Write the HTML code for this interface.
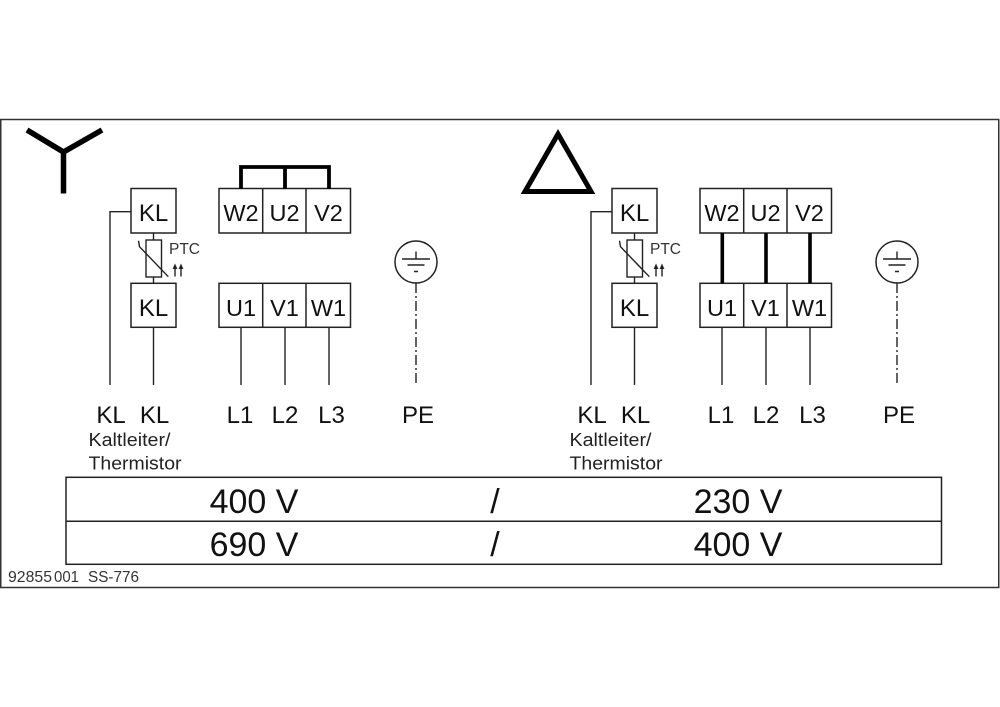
<!DOCTYPE html>
<html>
<head>
<meta charset="utf-8">
<style>
html,body{margin:0;padding:0;background:#fff;}
svg{display:block;}
text{font-family:"Liberation Sans",Arial,sans-serif;fill:#111;}
</style>
</head>
<body>
<svg width="1000" height="707" viewBox="0 0 1000 707" xmlns="http://www.w3.org/2000/svg">
<rect x="0" y="0" width="1000" height="707" fill="#fff"/>
<!-- outer frame -->
<rect x="0.75" y="119.5" width="998" height="468" fill="none" stroke="#333" stroke-width="1.5"/>

<!-- Y symbol -->
<path d="M27,130 L63.5,152 L102,130 M63.5,152 L63.5,193.5" fill="none" stroke="#000" stroke-width="5.5" stroke-linejoin="miter"/>
<!-- Delta symbol -->
<polygon points="558,134 591,191.5 525,191.5" fill="none" stroke="#000" stroke-width="5" stroke-linejoin="miter"/>

<!-- common block, left -->
<g id="blk">
  <!-- KL boxes -->
  <rect x="131" y="188.5" width="45" height="44.5" fill="none" stroke="#222" stroke-width="1.5"/>
  <rect x="131" y="283.3" width="45" height="44" fill="none" stroke="#222" stroke-width="1.5"/>
  <text x="153.5" y="221" font-size="24" text-anchor="middle">KL</text>
  <text x="153.5" y="316" font-size="24" text-anchor="middle">KL</text>
  <!-- KL wires -->
  <path d="M131,211.7 H110 V385 M153.5,327.3 V385 M153.5,233 V240 M153.5,277 V283.3" fill="none" stroke="#222" stroke-width="1.4"/>
  <!-- PTC -->
  <rect x="146" y="240" width="15.5" height="37" fill="none" stroke="#222" stroke-width="1.4"/>
  <path d="M138.5,240.7 L139.5,246.7 L168.3,276.7" fill="none" stroke="#222" stroke-width="1.4"/>
  <text x="169" y="254" font-size="15.5" style="fill:#333">PTC</text>
  <path d="M175,276.5 V267 M181,276.5 V267" stroke="#222" stroke-width="1.4"/>
  <polygon points="175,263.5 172.6,269 177.4,269" fill="#222"/>
  <polygon points="181,263.5 178.6,269 183.4,269" fill="#222"/>
  <!-- terminal boxes -->
  <rect x="219" y="188.5" width="131.5" height="44.5" fill="none" stroke="#222" stroke-width="1.5"/>
  <path d="M262.7,188.5 V233 M306,188.5 V233" stroke="#222" stroke-width="1.5"/>
  <rect x="219" y="283.3" width="131.5" height="44" fill="none" stroke="#222" stroke-width="1.5"/>
  <path d="M262.7,283.3 V327.3 M306,283.3 V327.3" stroke="#222" stroke-width="1.5"/>
  <text x="241" y="221" font-size="23.5" text-anchor="middle">W2</text>
  <text x="284.5" y="221" font-size="23.5" text-anchor="middle">U2</text>
  <text x="328.5" y="221" font-size="23.5" text-anchor="middle">V2</text>
  <text x="241" y="316" font-size="23.5" text-anchor="middle">U1</text>
  <text x="284.5" y="316" font-size="23.5" text-anchor="middle">V1</text>
  <text x="328.5" y="316" font-size="23.5" text-anchor="middle">W1</text>
  <!-- line wires -->
  <path d="M241,327.3 V385 M285,327.3 V385 M329,327.3 V385" stroke="#222" stroke-width="1.4"/>
  <!-- earth -->
  <circle cx="416" cy="262" r="21" fill="none" stroke="#222" stroke-width="1.5"/>
  <path d="M416,251.5 V259 M402,259 H430 M407.5,265 H424.5 M414,271.5 H418" stroke="#222" stroke-width="1.4"/>
  <path d="M416,283 V385" stroke="#222" stroke-width="1.4" stroke-dasharray="10 3 2 3"/>
  <!-- labels -->
  <text x="111" y="423" font-size="24" text-anchor="middle">KL</text>
  <text x="154.5" y="423" font-size="24" text-anchor="middle">KL</text>
  <text x="240" y="423" font-size="24" text-anchor="middle">L1</text>
  <text x="285" y="423" font-size="24" text-anchor="middle">L2</text>
  <text x="331.5" y="423" font-size="24" text-anchor="middle">L3</text>
  <text x="418" y="423" font-size="24" text-anchor="middle">PE</text>
  <text x="88.5" y="446" font-size="18" textLength="82" lengthAdjust="spacingAndGlyphs" style="fill:#222">Kaltleiter/</text>
  <text x="88.5" y="469.5" font-size="18" textLength="93" lengthAdjust="spacingAndGlyphs" style="fill:#222">Thermistor</text>
</g>

<!-- left bridge (star) -->
<path d="M241,189 V167 H329 V189 M285,167 V189" fill="none" stroke="#000" stroke-width="3.8" stroke-linejoin="miter"/>

<!-- right block -->
<use href="#blk" transform="translate(481,0)"/>
<!-- delta bars -->
<path d="M722.3,233 V283.3 M766,233 V283.3 M810,233 V283.3" stroke="#000" stroke-width="3.6"/>

<!-- voltage table -->
<rect x="66" y="477.3" width="875.5" height="87" fill="none" stroke="#222" stroke-width="1.5"/>
<path d="M66,521.3 H941.5" stroke="#222" stroke-width="1.5"/>
<text x="254" y="513" font-size="34" text-anchor="middle">400 V</text>
<text x="495" y="513" font-size="34" text-anchor="middle">/</text>
<text x="738" y="513" font-size="34" text-anchor="middle">230 V</text>
<text x="254" y="556" font-size="34" text-anchor="middle">690 V</text>
<text x="495" y="556" font-size="34" text-anchor="middle">/</text>
<text x="738" y="556" font-size="34" text-anchor="middle">400 V</text>

<!-- footer -->
<text x="8" y="582" font-size="16" textLength="44" lengthAdjust="spacingAndGlyphs" style="fill:#333">92855</text>
<text x="54" y="582" font-size="16" textLength="25" lengthAdjust="spacingAndGlyphs" style="fill:#333">001</text>
<text x="88" y="582" font-size="16" textLength="51" lengthAdjust="spacingAndGlyphs" style="fill:#333">SS-776</text>
</svg>
</body>
</html>
